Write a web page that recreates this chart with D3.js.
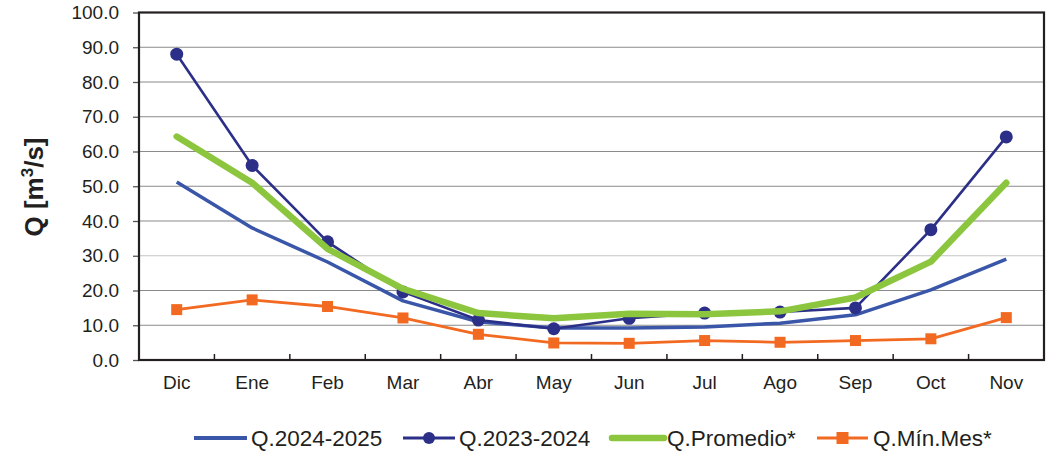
<!DOCTYPE html>
<html><head><meta charset="utf-8">
<script src="https://cdn.jsdelivr.net/npm/d3@7"></script>
<style>body{margin:0;background:#fff}svg{display:block}text{font-family:"Liberation Sans",Arial,sans-serif;fill:#231F20}</style>
</head><body><svg id="c" width="1052" height="455"></svg>
<script>
const months = ["Dic","Ene","Feb","Mar","Abr","May","Jun","Jul","Ago","Sep","Oct","Nov"];
const q2425 = [51.2,38.0,28.2,17.0,11.0,9.2,9.2,9.5,10.6,13.0,20.2,29.0];
const q2324 = [88.0,56.0,34.0,19.6,11.5,9.0,12.0,13.5,13.8,15.0,37.5,64.2];
const qProm = [64.3,51.0,32.0,20.5,13.5,12.0,13.3,13.2,14.0,18.0,28.3,51.0];
const qMin  = [14.5,17.3,15.4,12.1,7.4,4.9,4.8,5.6,5.1,5.6,6.1,12.2];
const yTicks = [0,10,20,30,40,50,60,70,80,90,100];
const seriesNames = ["Q.2024-2025","Q.2023-2024","Q.Promedio*","Q.Mín.Mes*"];

const svg = d3.select("#c");
const L=139, R=1044, T=12.5, B=360;
const x = d3.scaleBand().domain(months).range([L,R]);
const y = d3.scaleLinear().domain([0,100]).range([B,T]);
const cx = m => x(m)+x.bandwidth()/2;

// gridlines
svg.append("g").selectAll("line").data(yTicks.filter(d=>d>0&&d<100)).join("line")
  .attr("x1",L).attr("x2",R).attr("y1",d=>y(d)).attr("y2",d=>y(d))
  .attr("stroke",d=>d===30?"#c4c4c4":"#8a8a8a").attr("stroke-width",1.2);

// y axis
const ya = svg.append("g").attr("transform",`translate(${L},0)`)
  .call(d3.axisLeft(y).tickValues(yTicks).tickFormat(d3.format(".1f")).tickSize(6).tickPadding(14));
ya.select(".domain").remove();
ya.selectAll(".tick line").attr("stroke","#555").attr("stroke-width",1.3);
ya.selectAll(".tick text").attr("font-size",19).attr("fill","#231F20").attr("font-family","Liberation Sans, Arial, sans-serif");

// x axis labels
const xa = svg.append("g").attr("transform",`translate(0,${B})`)
  .call(d3.axisBottom(x).tickSize(0).tickPadding(16));
xa.select(".domain").remove();
xa.selectAll(".tick text").attr("font-size",19).attr("fill","#231F20").attr("font-family","Liberation Sans, Arial, sans-serif");
// inward x ticks at band boundaries
svg.append("g").selectAll("line").data(months.slice(1)).join("line")
  .attr("x1",d=>x(d)).attr("x2",d=>x(d)).attr("y1",B).attr("y2",B-6)
  .attr("stroke","#231F20").attr("stroke-width",1.5);

// frame
svg.append("rect").attr("x",L).attr("y",T).attr("width",R-L).attr("height",B-T)
  .attr("fill","none").attr("stroke","#231F20").attr("stroke-width",2.2);

const line = d3.line().x((d,i)=>cx(months[i])).y(d=>y(d));
const colors = ["#3A56A8","#2B2F87","#8CC63E","#F26A21"];

svg.append("path").datum(q2425).attr("d",line).attr("fill","none").attr("stroke",colors[0]).attr("stroke-width",3.5).attr("stroke-linejoin","round");
svg.append("path").datum(q2324).attr("d",line).attr("fill","none").attr("stroke",colors[1]).attr("stroke-width",2.6).attr("stroke-linejoin","round");
svg.append("g").selectAll("circle").data(q2324).join("circle")
  .attr("cx",(d,i)=>cx(months[i])).attr("cy",d=>y(d)).attr("r",6.5).attr("fill",colors[1]);
svg.append("path").datum(qProm).attr("d",line).attr("fill","none").attr("stroke",colors[2]).attr("stroke-width",6.5).attr("stroke-linejoin","round").attr("stroke-linecap","round");
svg.append("path").datum(qMin).attr("d",line).attr("fill","none").attr("stroke",colors[3]).attr("stroke-width",2.8).attr("stroke-linejoin","round");
svg.append("g").selectAll("rect").data(qMin).join("rect")
  .attr("x",(d,i)=>cx(months[i])-5.5).attr("y",d=>y(d)-5.5).attr("width",11).attr("height",11).attr("fill",colors[3]);

// y label
svg.append("text").attr("transform","translate(43,187) rotate(-90)").attr("text-anchor","middle")
  .attr("font-size",26).attr("font-weight","bold")
  .html('Q [m<tspan dy="-10" font-size="17">3</tspan><tspan dy="10">/s]</tspan>');

// legend
const leg = [
  {x1:194,x2:247,tx:251,w:3.8,marker:null},
  {x1:403,x2:455,tx:459,w:3,marker:"circle"},
  {x1:612,x2:664,tx:667,w:6.5,marker:null},
  {x1:817,x2:868,tx:873,w:3,marker:"rect"}
];
const ly=438;
const lg = svg.append("g");
leg.forEach((l,i)=>{
  lg.append("line").attr("x1",l.x1).attr("x2",l.x2).attr("y1",ly).attr("y2",ly)
    .attr("stroke",colors[i]).attr("stroke-width",l.w).attr("stroke-linecap",i===2?"round":"butt");
  const mx=(l.x1+l.x2)/2;
  if(l.marker==="circle") lg.append("circle").attr("cx",mx).attr("cy",ly).attr("r",6).attr("fill",colors[i]);
  if(l.marker==="rect") lg.append("rect").attr("x",mx-6).attr("y",ly-6).attr("width",12).attr("height",12).attr("fill",colors[i]);
  lg.append("text").attr("x",l.tx).attr("y",ly+8).attr("font-size",22.5).text(seriesNames[i]);
});
</script></body></html>
